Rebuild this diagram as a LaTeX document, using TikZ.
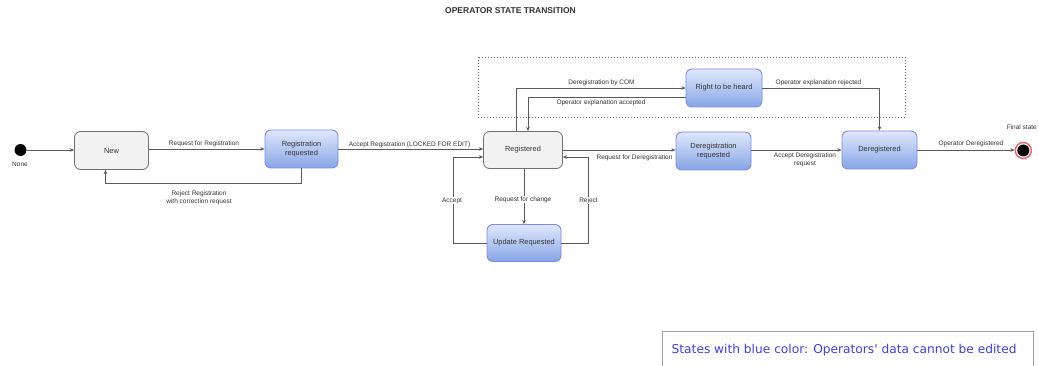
\documentclass[tikz,border=0pt]{standalone}
\usepackage{fontspec}
\setmainfont{Liberation Sans}
\newfontfamily\legendfont{DejaVu Sans}
\usetikzlibrary{arrows.meta}
\definecolor{graystroke}{HTML}{707070}
\definecolor{grayfill}{HTML}{F2F2F2}
\definecolor{bluetop}{HTML}{DFE8FB}
\definecolor{bluebot}{HTML}{86A5E6}
\definecolor{bluestroke}{HTML}{7C88F2}
\definecolor{edgecol}{HTML}{5A5A5A}
\definecolor{txt}{HTML}{333333}
\definecolor{legendblue}{HTML}{3C3CF2}
\definecolor{finalred}{HTML}{F0606A}
\definecolor{dotcol}{HTML}{666666}
\begin{document}
\begin{tikzpicture}[x=1pt,y=-1pt,
  boxfont/.style={font=\fontsize{7.4}{8.6}\selectfont},
  graybox/.style={draw=graystroke, fill=grayfill, rounded corners=6pt, line width=0.8pt,
    text=txt, boxfont, align=center, inner sep=0pt, minimum width=75pt, minimum height=38pt},
  bluebox/.style={draw=bluestroke, top color=bluetop, bottom color=bluebot, rounded corners=6pt,
    line width=0.9pt, text=txt, boxfont, align=center, inner sep=0pt, minimum width=75pt, minimum height=38pt},
  edge/.style={draw=edgecol, line width=0.7pt, -{Stealth[length=4.2pt,width=3.6pt]}},
  lbl/.style={font=\fontsize{6.5}{7.8}\selectfont, text=txt, inner sep=0.6pt, align=center},
  lblbg/.style={lbl, fill=white},
]
\useasboundingbox (0,0) rectangle (1038,366);
\fill[white] (0,0) rectangle (1038,366);
\clip (0,0) rectangle (1038,366);

% title
\node (title) [font=\bfseries\fontsize{8.5}{10}\selectfont, text=txt] at (510.5,10.5) {OPERATOR STATE TRANSITION};

% dotted frame
\draw[dotcol, line width=0.8pt, dash pattern=on 0.9pt off 2.1pt] (478,57) rectangle (905,117);

% states
\node (init) [circle, fill=black, minimum size=12pt, inner sep=0pt] at (20.5,150) {};
\node (none) [lbl] at (20,164) {None};
\node (new) [graybox, minimum width=74pt] at (111.5,150.5) {New};
\node (regreq) [bluebox, minimum width=73pt] at (301.5,149) {Registration\\requested};
\node (registered) [graybox, minimum width=79pt, minimum height=37pt] at (523,150) {Registered};
\node (update) [bluebox, minimum width=74pt, minimum height=37pt] at (524,243) {Update Requested};
\node (rtbh) [bluebox, minimum width=76pt] at (724,88) {Right to be heard};
\node (deregreq) [bluebox, minimum width=75pt] at (713.5,151) {Deregistration\\requested};
\node (dereg) [bluebox, minimum width=75pt] at (879.5,150) {Deregistered};
\node (final) [circle, draw=finalred, line width=1.4pt, fill=white, minimum size=16pt, inner sep=0pt] at (1023.3,150.5) {};
\fill[black] (final.center) circle (6);
\node (finallbl) [lbl, anchor=east] at (1037.6,127) {Final state};

% connectors
\draw[edge] (init) -- (new.west |- init);
\draw[edge] (new.east |- regreq) -- (regreq.west);
\draw[edge] (regreq.south) -- ++(0,15) -| ([xshift=-6pt]new.south);
\draw[edge] (regreq.east) -- (regreq.east -| registered.west);
\draw[edge] ([xshift=-7pt]registered.north) |- (rtbh.west);
\draw[edge] ([yshift=-9.5pt]rtbh.west) -| ([xshift=5pt]registered.north);
\draw[edge] (rtbh.east) -| (dereg.north);
\draw[edge] (registered.east) -- (registered.east -| deregreq.west);
\draw[edge] (deregreq.east |- dereg) -- (dereg.west);
\draw[edge] (dereg.east) -- (dereg.east -| final.west);
\draw[edge] (registered.south -| update.north) -- (update.north);
\draw[edge] (update.west) -- ++(-33,0) |- ([yshift=-7pt]registered.west);
\draw[edge] (update.east) -- ++(27,0) |- ([yshift=-7pt]registered.east);

% connector labels
\node (l1) [lbl] at (204,144) {Request for Registration};
\node (l2) [lbl] at (199,198) {Reject Registration\\with correction request};
\node (l3) [lbl] at (409.5,144.5) {Accept Registration (LOCKED FOR EDIT)};
\node (l4) [lbl] at (601.5,83) {Deregistration by COM};
\node (l5) [lbl] at (601,102.8) {Operator explanation accepted};
\node (l6) [lbl] at (818.5,83) {Operator explanation rejected};
\node (l7) [lbl] at (634.5,157.5) {Request for Deregistration};
\node (l8) [lbl] at (805,160) {Accept Deregistration\\request};
\node (l9) [lbl] at (971,143.5) {Operator Deregistered};
\node (l10) [lblbg] at (523,199.5) {Request for change};
\node (l11) [lblbg] at (452,200.5) {Accept};
\node (l12) [lblbg] at (588.5,200.5) {Reject};

% legend
\draw[gray!75, line width=0.9pt] (662,331) rectangle (1033.5,380);
\node (legend) [anchor=west, inner sep=0pt, text=legendblue, font=\legendfont\fontsize{12.2}{14}\selectfont] at (671.5,350.5) {States with blue color: Operators' data cannot be edited};
\end{tikzpicture}
\end{document}
